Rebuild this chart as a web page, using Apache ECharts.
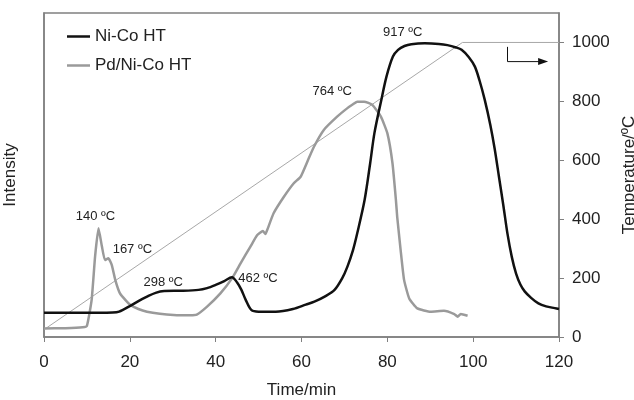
<!DOCTYPE html>
<html>
<head>
<meta charset="utf-8">
<script src="https://cdn.jsdelivr.net/npm/echarts@6/dist/echarts.min.js"></script>
<style>
  html, body { margin: 0; padding: 0; background: #fff; }
  #chart { width: 634px; height: 400px; }
</style>
</head>
<body>
<div id="chart"></div>
<script>
// Time axis (min) and temperature axis (ºC) tick labels
const timeTicks = [0, 20, 40, 60, 80, 100, 120];
const tempTicks = [0, 200, 400, 600, 800, 1000];

// Ni-Co HT TPR signal (arbitrary intensity units)
const niCoTime = [0, 8, 16, 17.5, 20, 22, 24, 26, 28, 32, 36, 38, 40, 42, 43.8, 45, 46, 47, 48.3, 50,
  54, 58, 61, 63, 65.5, 67.7, 69.5, 70.7, 72, 73, 74.7, 76, 77, 78.6, 79.8, 81.3, 82.5, 84, 85.6,
  88.7, 92, 94, 96, 97.3, 99, 100.4, 101.5, 102.7, 104, 105, 106, 107, 108, 109, 110, 111, 112, 113.5,
  115.2, 117, 119, 120];
const niCoIntensity = [82, 82, 83, 86, 105, 122, 137, 150, 156, 157, 160, 166, 177, 190, 203, 185, 160, 126, 92, 86,
  86, 95, 110, 120, 138, 160, 200, 239, 295, 353, 465, 590, 693, 805, 884, 952, 975, 988, 994,
  997, 995, 991, 983, 975, 950, 918, 870, 805, 720, 640, 545, 450, 350, 272, 215, 178, 155, 133,
  114, 104, 98, 95];

// Pd/Ni-Co HT TPR signal (arbitrary intensity units)
const pdTime = [0, 5, 9, 10, 11.1, 11.9, 12.7, 13.5, 14.2, 15, 15.8, 16.6, 17.7, 19, 20.1, 22, 24, 27,
  30.2, 34, 35.6, 38, 41.1, 43.8, 45.8, 48.1, 49.7, 51, 51.6, 52, 53.5, 55.9, 58.2, 59.8, 61.5,
  62.9, 65.2, 68.3, 70.7, 72, 73, 74.6, 76.5, 78.5, 80, 81.2, 82, 82.3, 83.1, 83.9, 85.1, 87,
  90.1, 93.2, 95.6, 96.4, 97.1, 98.7];
const pdIntensity = [29, 30, 33, 38, 126, 273, 369, 307, 261, 267, 244, 194, 148, 125, 109, 95, 86, 79,
  75, 74, 76, 103, 148, 199, 250, 307, 346, 360, 350, 363, 420, 476, 522, 544, 600,
  646, 703, 748, 777, 790, 799, 799, 788, 748, 692, 590, 465, 408, 295, 194, 131, 97,
  86, 89, 78, 69, 78, 72];

// Oven temperature programme (10 ºC/min ramp, then hold)
const rampTime = [0, 97.5, 120];
const rampTemp = [25, 1000, 1000];

// Peak temperatures: label, series, time of the marked point
const peakLabels = ['140 ºC', '167 ºC', '298 ºC', '462 ºC', '764 ºC', '917 ºC'];
const peakSeries = ['Pd/Ni-Co HT', 'Pd/Ni-Co HT', 'Ni-Co HT', 'Ni-Co HT', 'Pd/Ni-Co HT', 'Ni-Co HT'];
const peakTimes = [12.7, 15, 28, 43.8, 74.6, 88.7];

// Arrow showing which curve uses the right-hand axis
const arrowTime = [108, 108, 116.3];
const arrowTemp = [985, 935, 935];

const FONT = 'Liberation Sans, Arial, Helvetica, sans-serif';
const pairs = (xs, ys) => xs.map((x, i) => [x, ys[i]]);

const labelOffsets = [[-3, -12], [24, -9], [-1, -9], [26, 1], [-32, -10], [-22, -11]];

function marksFor(name, xs, ys) {
  const out = [];
  peakLabels.forEach((txt, i) => {
    if (peakSeries[i] !== name) return;
    const k = xs.indexOf(peakTimes[i]);
    out.push({
      coord: [xs[k], ys[k]],
      label: { formatter: txt, offset: labelOffsets[i] }
    });
  });
  return {
    symbol: 'circle',
    symbolSize: 1,
    itemStyle: { color: 'rgba(0,0,0,0)' },
    label: { show: true, position: 'inside', color: '#222', fontSize: 13, fontFamily: FONT },
    data: out
  };
}

const chart = echarts.init(document.getElementById('chart'), null, { renderer: 'canvas' });

const frame = '#808080';
chart.setOption({
  animation: false,
  backgroundColor: '#fff',
  textStyle: { fontFamily: FONT },
  grid: {
    left: 44, right: 75, top: 13, bottom: 63,
    containLabel: false, outerBoundsMode: 'none',
    show: true, borderColor: frame, borderWidth: 1.5, backgroundColor: 'transparent'
  },
  legend: {
    data: [
      { name: 'Ni-Co HT', icon: 'rect', itemStyle: { color: '#111' } },
      { name: 'Pd/Ni-Co HT', icon: 'rect', itemStyle: { color: '#9a9a9a' } }
    ],
    orient: 'vertical',
    left: 62,
    top: 23,
    itemWidth: 23,
    itemHeight: 2.5,
    itemGap: 12,
    textStyle: { fontSize: 17, color: '#222', fontFamily: FONT }
  },
  xAxis: {
    type: 'value',
    min: timeTicks[0],
    max: timeTicks[timeTicks.length - 1],
    interval: timeTicks[1] - timeTicks[0],
    name: 'Time/min',
    nameLocation: 'middle',
    nameGap: 45,
    nameTextStyle: { fontSize: 17, color: '#222', fontFamily: FONT },
    axisLine: { lineStyle: { color: frame, width: 1.5 } },
    axisTick: { show: true, inside: false, length: 5, lineStyle: { color: frame } },
    axisLabel: { fontSize: 17, color: '#222', margin: 17, fontFamily: FONT },
    splitLine: { show: false }
  },
  yAxis: [
    {
      type: 'value',
      min: 0,
      max: 1100,
      position: 'left',
      name: 'Intensity',
      nameLocation: 'middle',
      nameGap: 25,
      nameRotate: 90,
      nameTextStyle: { fontSize: 17, color: '#222', fontFamily: FONT },
      axisLine: { show: true, lineStyle: { color: frame, width: 1.5 } },
      axisTick: { show: false },
      axisLabel: { show: false },
      splitLine: { show: false }
    },
    {
      type: 'value',
      min: 0,
      max: 1100,
      position: 'right',
      name: 'Temperature/ºC',
      nameLocation: 'middle',
      nameGap: 60,
      nameRotate: 90,
      nameTextStyle: { fontSize: 17, color: '#222', fontFamily: FONT },
      axisLine: { show: true, lineStyle: { color: frame, width: 1.5 } },
      axisTick: { show: true, length: 5, lineStyle: { color: frame }, customValues: tempTicks },
      axisLabel: {
        fontSize: 17, color: '#222', margin: 13, fontFamily: FONT,
        customValues: tempTicks, formatter: v => String(v)
      },
      splitLine: { show: false }
    }
  ],
  series: [
    {
      name: 'Ni-Co HT',
      type: 'line',
      yAxisIndex: 0,
      data: pairs(niCoTime, niCoIntensity),
      smooth: 0.3,
      symbol: 'none',
      lineStyle: { color: '#111', width: 2.5 },
      itemStyle: { color: '#111' },
      markPoint: marksFor('Ni-Co HT', niCoTime, niCoIntensity),
      z: 4
    },
    {
      name: 'Pd/Ni-Co HT',
      type: 'line',
      yAxisIndex: 0,
      data: pairs(pdTime, pdIntensity),
      smooth: 0.15,
      symbol: 'none',
      lineStyle: { color: '#9a9a9a', width: 2.5 },
      itemStyle: { color: '#9a9a9a' },
      markPoint: marksFor('Pd/Ni-Co HT', pdTime, pdIntensity),
      z: 3
    },
    {
      name: 'Temperature',
      type: 'line',
      yAxisIndex: 1,
      data: pairs(rampTime, rampTemp),
      symbol: 'none',
      lineStyle: { color: '#a8a8a8', width: 1 },
      z: 2
    },
    {
      name: 'arrow',
      type: 'line',
      yAxisIndex: 1,
      data: arrowTime.map((t, i) => i === arrowTime.length - 1
        ? { value: [t, arrowTemp[i]], symbol: 'triangle', symbolSize: [7, 10], symbolRotate: -90 }
        : { value: [t, arrowTemp[i]], symbol: 'none' }),
      showSymbol: true,
      symbol: 'none',
      lineStyle: { color: '#111', width: 1 },
      itemStyle: { color: '#111' },
      z: 5
    }
  ]
});
</script>
</body>
</html>
